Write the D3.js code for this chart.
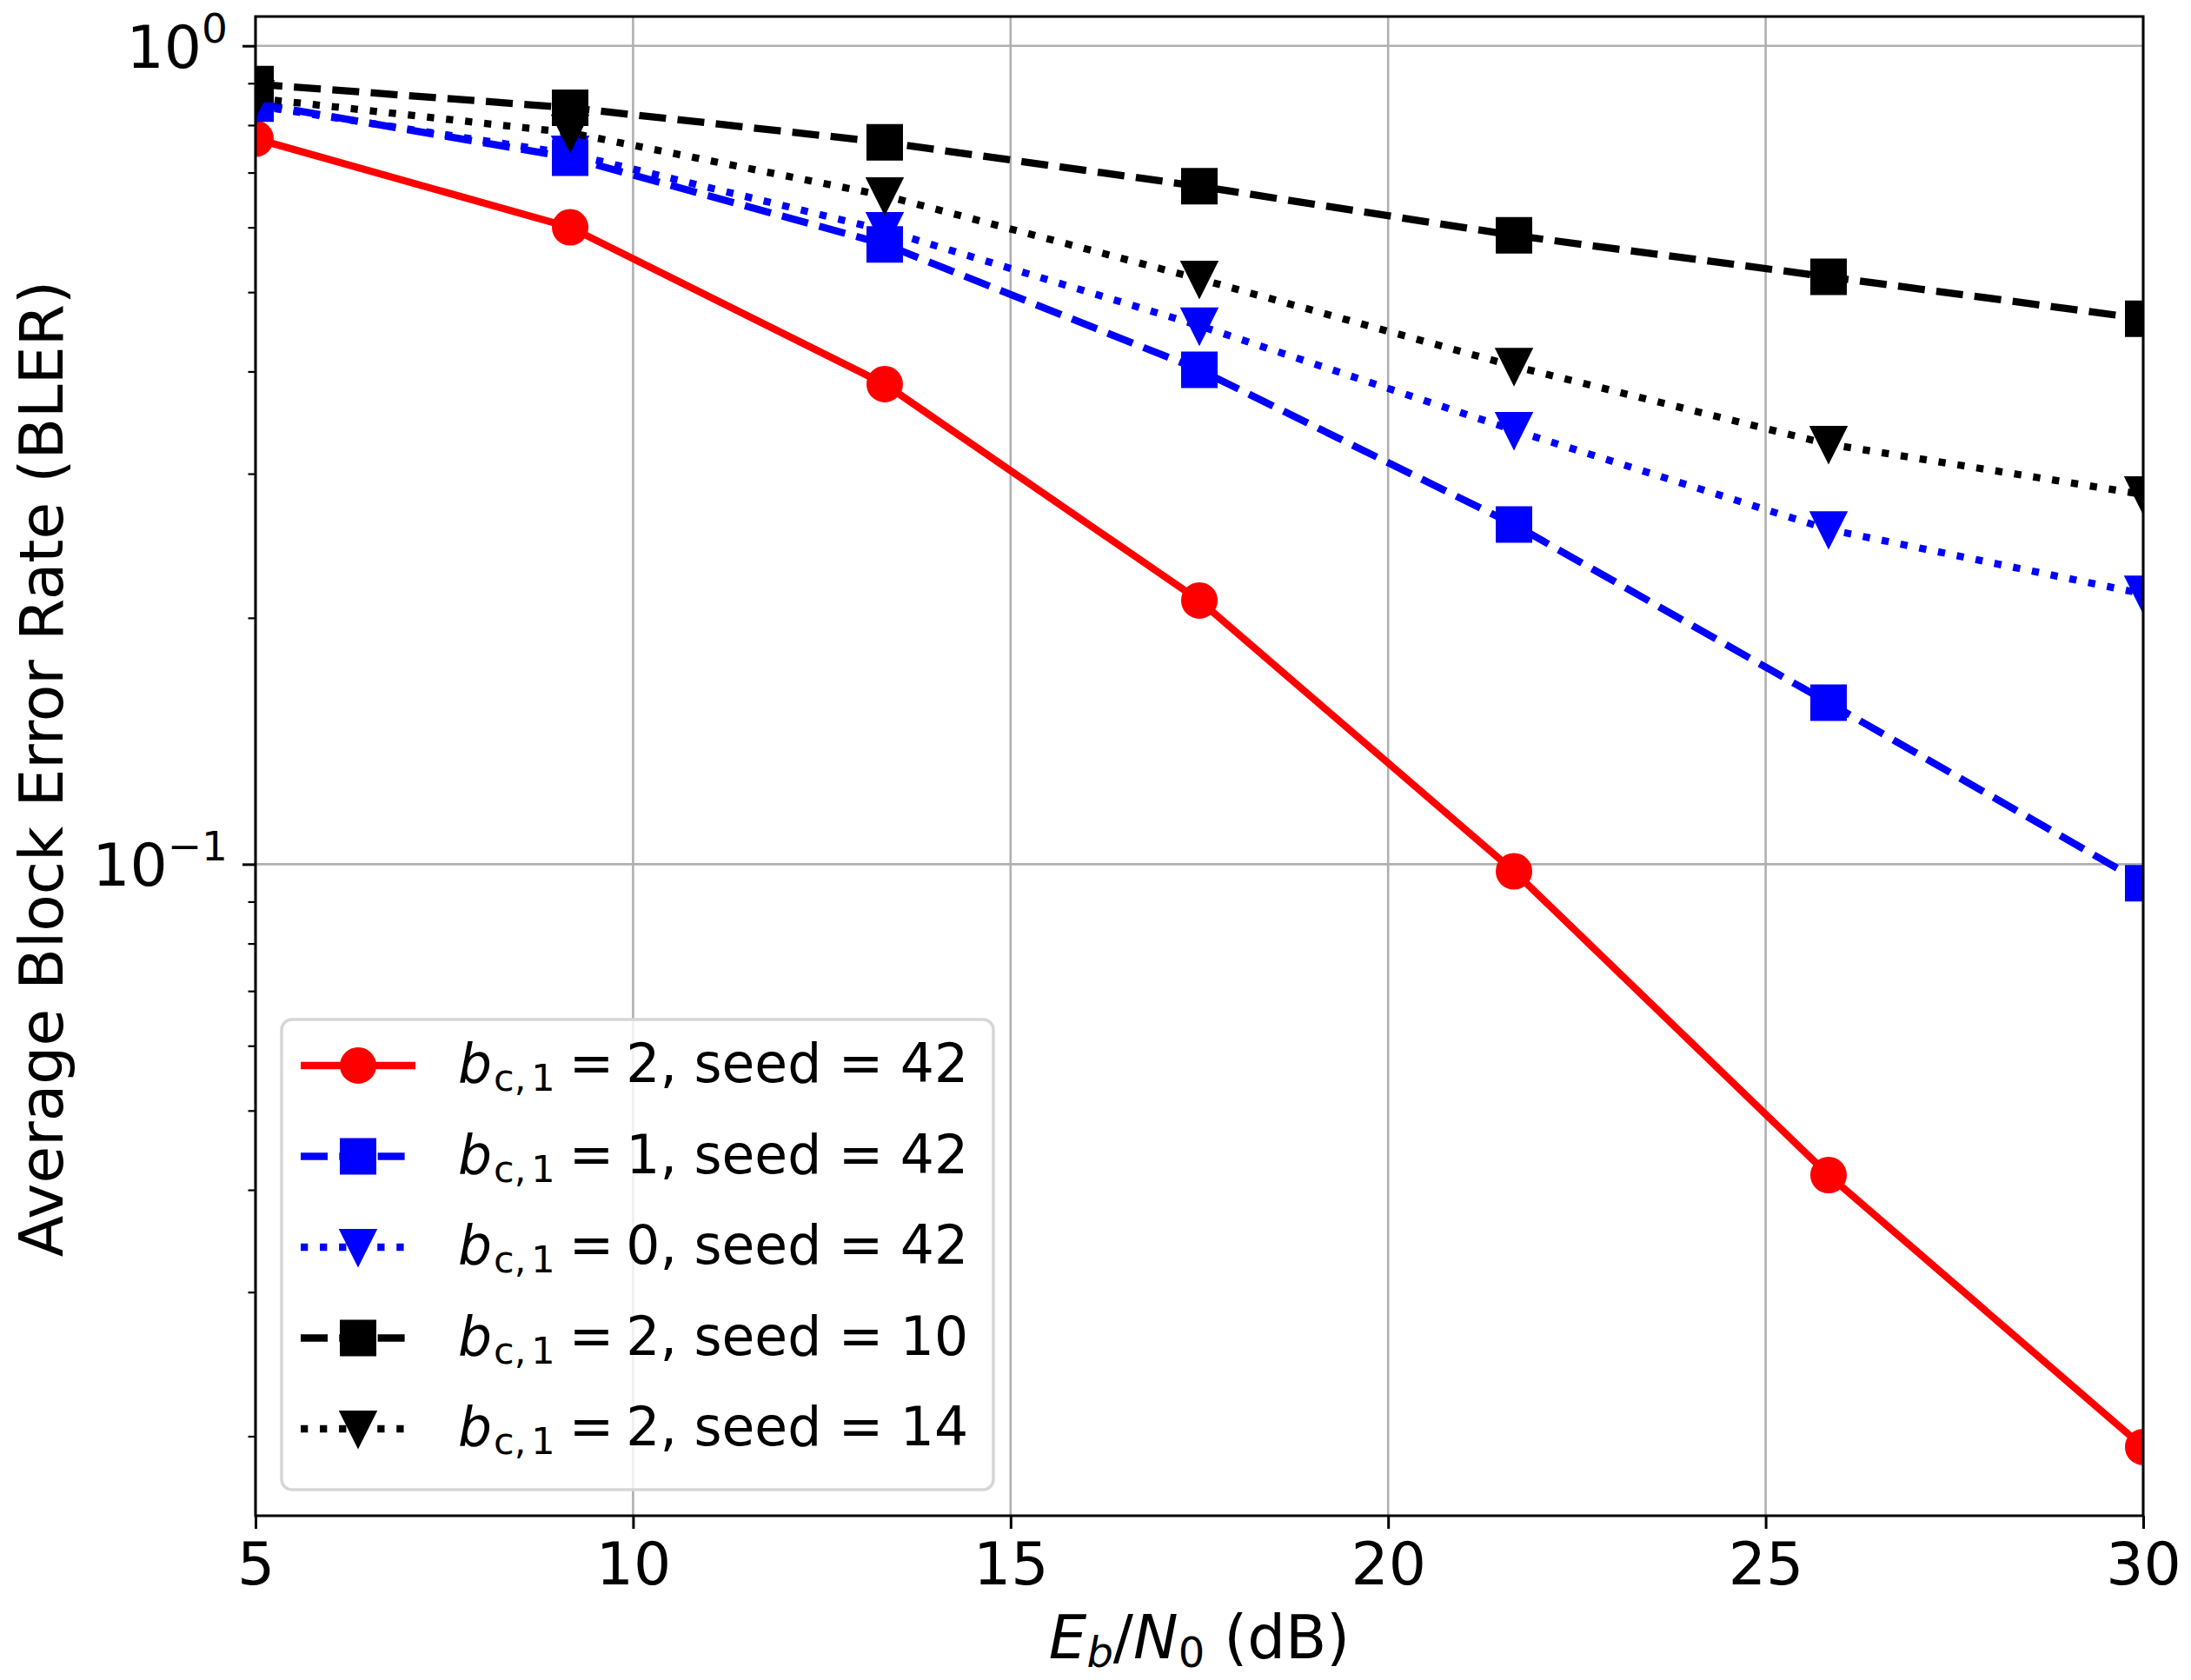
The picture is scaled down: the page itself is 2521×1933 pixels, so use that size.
<!DOCTYPE html>
<html>
<head>
<meta charset="utf-8">
<script src="https://cdn.jsdelivr.net/npm/d3@7"></script>
<style>
  html, body { margin: 0; padding: 0; background: #fff; }
  text { font-family: "DejaVu Sans", sans-serif; }
</style>
</head>
<body>
<svg id="chart" width="2521" height="1933"></svg>
<script>
// ---------------- data ----------------
const ebn0 = [5, 9.167, 13.333, 17.5, 21.667, 25.833, 30];
const bler_b2_s42 = [0.770, 0.600, 0.386, 0.210, 0.0980, 0.0417, 0.0194];
const bler_b1_s42 = [0.850, 0.730, 0.572, 0.402, 0.260, 0.1575, 0.0948];
const bler_b0_s42 = [0.845, 0.738, 0.595, 0.455, 0.339, 0.2565, 0.214];
const bler_b2_s10 = [0.898, 0.840, 0.762, 0.6735, 0.5866, 0.522, 0.464];
const bler_b2_s14 = [0.863, 0.783, 0.656, 0.519, 0.406, 0.326, 0.283];
const legendB = ["2", "1", "0", "2", "2"];
const legendSeed = ["42", "42", "42", "10", "14"];
const xTicks = [5, 10, 15, 20, 25, 30];
const yMajor = [1, 0.1];
const yMajorExp = ["0", "\u22121"];
const yMinor = [0.02,0.03,0.04,0.05,0.06,0.07,0.08,0.09,0.2,0.3,0.4,0.5,0.6,0.7,0.8,0.9];

// ---------------- styles ----------------
const seriesStyle = [
  {data: bler_b2_s42, color: "#ff0000", dash: null, marker: "circle"},
  {data: bler_b1_s42, color: "#0000ff", dash: "31,13.3", marker: "square"},
  {data: bler_b0_s42, color: "#0000ff", dash: "8.3,13.75", marker: "tri"},
  {data: bler_b2_s10, color: "#000000", dash: "31,13.3", marker: "square"},
  {data: bler_b2_s14, color: "#000000", dash: "8.3,13.75", marker: "tri"}
];

const L = 294, R = 2466, T = 19, B = 1744;
const svg = d3.select("#chart");

const x = d3.scaleLinear().domain([5, 30]).range([L, R]);
const y = d3.scaleLog().domain([0.015991, 1.0859]).range([B, T]);

svg.append("defs").append("clipPath").attr("id", "clip")
  .append("rect").attr("x", L).attr("y", T).attr("width", R - L).attr("height", B - T);

// grid
const grid = svg.append("g");
grid.selectAll("line.vx").data(xTicks).join("line")
  .attr("x1", d => x(d)).attr("x2", d => x(d)).attr("y1", T).attr("y2", B)
  .attr("stroke", "#b0b0b0").attr("stroke-width", 2.6);
grid.selectAll("line.hy").data(yMajor).join("line")
  .attr("y1", d => y(d)).attr("y2", d => y(d)).attr("x1", L).attr("x2", R)
  .attr("stroke", "#b0b0b0").attr("stroke-width", 2.6);

function markerPath(type, s) {
  const h = s / 2;
  if (type === "circle") return d3.symbol(d3.symbolCircle, Math.PI * h * h)();
  if (type === "square") return `M${-h},${-h}H${h}V${h}H${-h}Z`;
  return `M${-h},${-h}L${h},${-h}L0,${h}Z`;
}

// series
const plot = svg.append("g").attr("clip-path", "url(#clip)");
const line = d3.line().x((d, i) => x(ebn0[i])).y(d => y(d));
seriesStyle.forEach(s => {
  const g = plot.append("g");
  g.append("path").datum(s.data).attr("d", line)
    .attr("fill", "none").attr("stroke", s.color).attr("stroke-width", 8.3)
    .attr("stroke-linejoin", "round")
    .attr("stroke-dasharray", s.dash);
  g.selectAll("path.m").data(s.data).join("path")
    .attr("transform", (d, i) => `translate(${x(ebn0[i])},${y(d)})`)
    .attr("d", markerPath(s.marker, 38))
    .attr("fill", s.color).attr("stroke", s.color).attr("stroke-width", 4);
});

// axes
const xAxis = d3.axisBottom(x).tickValues(xTicks).tickSize(15).tickPadding(16).tickFormat(d3.format("d"));
const gx = svg.append("g").attr("transform", `translate(0,${B})`).call(xAxis);
gx.select(".domain").remove();
gx.selectAll("line").attr("stroke", "#000").attr("stroke-width", 3);
gx.selectAll("text").attr("font-size", 68).attr("fill", "#000").attr("font-family", "DejaVu Sans");

const yAxis = d3.axisLeft(y).tickValues(yMajor).tickSize(15).tickFormat("");
const gy = svg.append("g").attr("transform", `translate(${L},0)`).call(yAxis);
gy.select(".domain").remove();
gy.selectAll("line").attr("stroke", "#000").attr("stroke-width", 3);
const yAxisMinor = d3.axisLeft(y).tickValues(yMinor).tickSize(8.5).tickFormat("");
const gym = svg.append("g").attr("transform", `translate(${L},0)`).call(yAxisMinor);
gym.select(".domain").remove();
gym.selectAll("line").attr("stroke", "#000").attr("stroke-width", 2.2);

// y tick labels 10^k
yMajor.forEach((v, i) => {
  const t = svg.append("text").attr("x", 262).attr("y", y(v) + 25)
    .attr("text-anchor", "end").attr("font-size", 68).attr("fill", "#000");
  t.append("tspan").text("10");
  t.append("tspan").attr("font-size", 47).attr("dy", -29).text(yMajorExp[i]);
});

// spines
svg.append("rect").attr("x", L).attr("y", T).attr("width", R - L).attr("height", B - T)
  .attr("fill", "none").attr("stroke", "#000").attr("stroke-width", 3);

// axis labels
const xl = svg.append("text").attr("x", (L + R) / 2).attr("y", 1908)
  .attr("text-anchor", "middle").attr("font-size", 69).attr("fill", "#000");
xl.append("tspan").attr("font-style", "italic").text("E");
xl.append("tspan").attr("font-style", "italic").attr("font-size", 48).attr("dy", 10).text("b");
xl.append("tspan").attr("dy", -10).text("/");
xl.append("tspan").attr("font-style", "italic").text("N");
xl.append("tspan").attr("font-size", 48).attr("dy", 10).text("0");
xl.append("tspan").attr("dy", -10).text(" (dB)");

svg.append("text").attr("transform", `translate(72,${(T + B) / 2 + 3}) rotate(-90)`)
  .attr("text-anchor", "middle").attr("font-size", 69.5).attr("fill", "#000")
  .text("Average Block Error Rate (BLER)");

// legend
const lg = svg.append("g");
lg.append("rect").attr("x", 324).attr("y", 1173).attr("width", 819).attr("height", 541)
  .attr("rx", 12).attr("fill", "#fff").attr("fill-opacity", 0.8)
  .attr("stroke", "#d6d6d6").attr("stroke-width", 3.5);
const rowY = [1226, 1330.5, 1435, 1539.5, 1644];
seriesStyle.forEach((s, i) => {
  const cy = rowY[i];
  const g = lg.append("g");
  g.append("line").attr("x1", 346).attr("x2", 478).attr("y1", cy).attr("y2", cy)
    .attr("stroke", s.color).attr("stroke-width", 8.3).attr("stroke-dasharray", s.dash);
  g.append("path").attr("transform", `translate(412,${cy})`).attr("d", markerPath(s.marker, 38))
    .attr("fill", s.color).attr("stroke", s.color).attr("stroke-width", 4);
  const t = g.append("text").attr("x", 527).attr("y", cy + 19).attr("font-size", 61.5).attr("fill", "#000");
  t.append("tspan").attr("font-style", "italic").text("b");
  t.append("tspan").attr("font-size", 43).attr("dy", 10).attr("dx", 2).text("c,");
  t.append("tspan").attr("font-size", 43).attr("dx", 6).text("1");
  t.append("tspan").attr("dy", -10).attr("dx", 16).text("=");
  t.append("tspan").attr("dx", 14).text(legendB[i] + ", seed = " + legendSeed[i]);
});
</script>
</body>
</html>
